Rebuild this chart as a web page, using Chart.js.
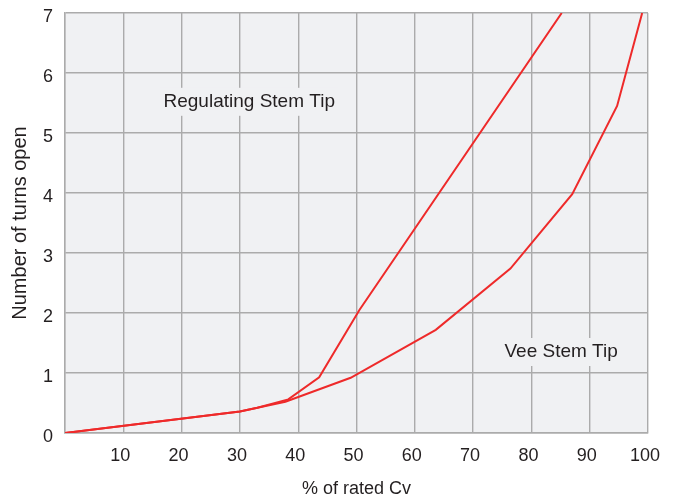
<!DOCTYPE html>
<html>
<head>
<meta charset="utf-8">
<script src="https://cdn.jsdelivr.net/npm/chart.js@4/dist/chart.umd.min.js"></script>
<style>
  html, body { margin: 0; padding: 0; background: #fff; }
  #wrap { width: 677px; height: 500px; }
</style>
</head>
<body>
<div id="wrap"><canvas id="chart"></canvas></div>
<script>
// % of rated Cv (x) vs number of turns open (y)
const regX = [0, 30, 33, 38.3, 43.6, 50.5, 85.2];
const regY = [0, 0.36, 0.42, 0.56, 0.93, 2.05, 7];
const veeX = [0, 30, 33, 37.8, 49, 63.6, 76.4, 87, 94.7, 99];
const veeY = [0, 0.36, 0.42, 0.52, 0.92, 1.72, 2.74, 3.98, 5.45, 7];
const xTicks = [0, 10, 20, 30, 40, 50, 60, 70, 80, 90, 100];
const yTicks = [0, 1, 2, 3, 4, 5, 6, 7];
const labels = [
  { text: "Regulating Stem Tip", x: 31.6, y: 5.52 },
  { text: "Vee Stem Tip", x: 85.1, y: 1.35 }
];

const FONT = "'Liberation Sans', Arial, sans-serif";
const RED = "#ee2a2a";
const INK = "#231f20";

function toPoints(xs, ys) {
  return xs.map((x, i) => ({ x: x, y: ys[i] }));
}

// light grey plot background
const plotBg = {
  id: "plotBg",
  beforeDraw(chart) {
    const { ctx, chartArea: a } = chart;
    ctx.save();
    ctx.fillStyle = "#f0f1f3";
    ctx.fillRect(a.left, a.top, a.right - a.left, a.bottom - a.top);
    ctx.restore();
  }
};

// curve names, with a box that hides the grid behind them
const curveLabels = {
  id: "curveLabels",
  afterDatasetsDraw(chart) {
    const ctx = chart.ctx;
    const xs = chart.scales.x, ys = chart.scales.y;
    ctx.save();
    ctx.font = "19px " + FONT;
    ctx.textAlign = "center";
    ctx.textBaseline = "middle";
    labels.forEach((l) => {
      const px = xs.getPixelForValue(l.x);
      const py = ys.getPixelForValue(l.y);
      const w = ctx.measureText(l.text).width;
      ctx.fillStyle = "#f0f1f3";
      ctx.fillRect(px - w / 2 - 4, py - 14, w + 8, 28);
      ctx.fillStyle = INK;
      ctx.fillText(l.text, px, py);
    });
    ctx.restore();
  }
};

new Chart(document.getElementById("chart"), {
  type: "scatter",
  data: {
    datasets: [
      { label: "Regulating Stem Tip", data: toPoints(regX, regY), showLine: true,
        borderColor: RED, borderWidth: 2, pointRadius: 0, tension: 0 },
      { label: "Vee Stem Tip", data: toPoints(veeX, veeY), showLine: true,
        borderColor: RED, borderWidth: 2, pointRadius: 0, tension: 0 }
    ]
  },
  options: {
    responsive: true,
    maintainAspectRatio: false,
    animation: false,
    layout: { padding: { top: 13, right: 29, left: 0, bottom: 0 } },
    plugins: { legend: { display: false }, tooltip: { enabled: false } },
    scales: {
      x: {
        type: "linear", min: 0, max: 100,
        afterBuildTicks: (s) => { s.ticks = xTicks.map((v) => ({ value: v })); },
        afterFit: (s) => { s.height = 67; s.paddingLeft = 0; s.paddingRight = 0; },
        grid: { color: "#ababab", lineWidth: 1.4, drawTicks: false },
        border: { color: "#ababab", width: 1.4 },
        ticks: {
          padding: 12, labelOffset: -3, color: INK, maxRotation: 0,
          font: { family: FONT, size: 18 },
          callback: (v) => (v === 0 ? "" : v)
        },
        title: { display: true, text: "% of rated Cv", color: INK,
          font: { family: FONT, size: 18 }, padding: { top: 12, bottom: 0 } }
      },
      y: {
        type: "linear", min: 0, max: 7,
        afterBuildTicks: (s) => { s.ticks = yTicks.map((v) => ({ value: v })); },
        afterFit: (s) => { s.width = 65; s.paddingTop = 0; s.paddingBottom = 0; },
        grid: { color: "#ababab", lineWidth: 1.4, drawTicks: false },
        border: { color: "#ababab", width: 1.4 },
        ticks: {
          padding: 12, labelOffset: 4, color: INK,
          font: { family: FONT, size: 18 }
        },
        title: { display: true, text: "Number of turns open", color: INK,
          font: { family: FONT, size: 20 }, padding: { top: 8, bottom: 0 } }
      }
    }
  },
  plugins: [plotBg, curveLabels]
});
</script>
</body>
</html>
